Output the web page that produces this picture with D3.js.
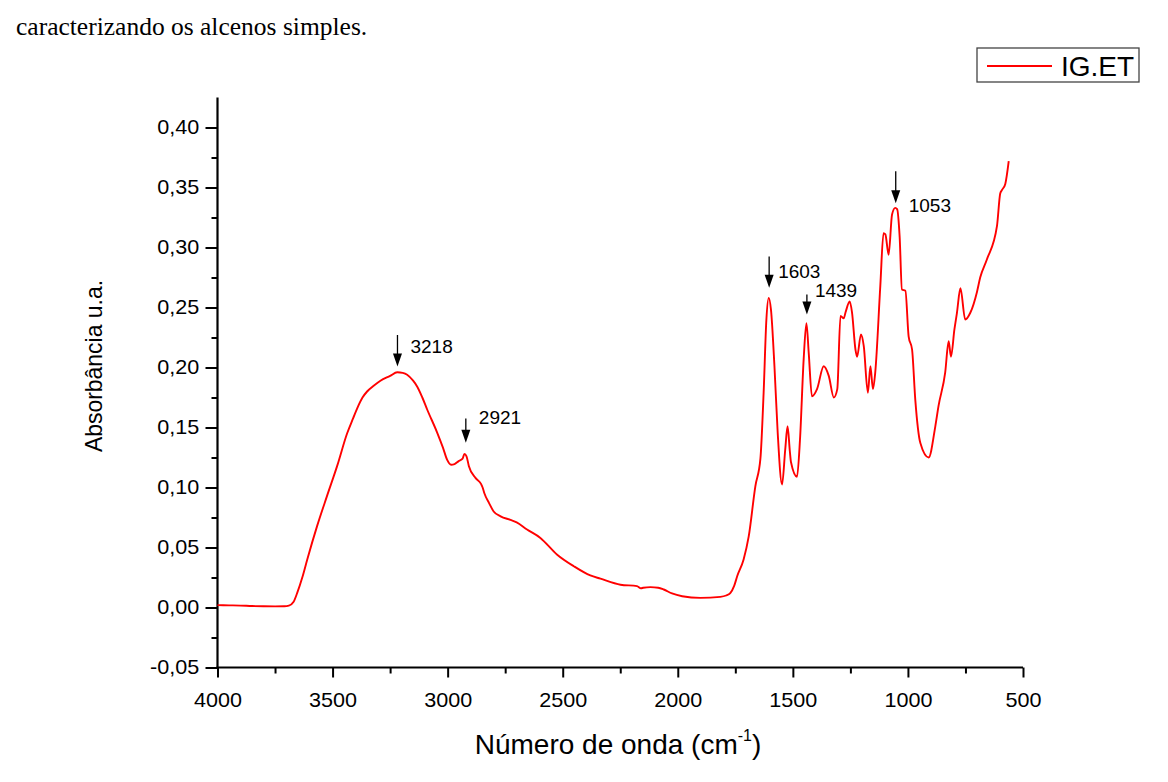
<!DOCTYPE html>
<html><head><meta charset="utf-8">
<script src="https://cdn.jsdelivr.net/npm/d3@7"></script>
<style>
html,body{margin:0;padding:0;background:#fff;}
svg{display:block;}
</style></head>
<body>
<svg id="c" width="1168" height="782"></svg>
<script>
// ---- data ----
const wavenumber = [4000,3950,3900,3850,3800,3750,3710,3690,3670,3654,3630,3610,3567,3524,3480,3437,3410,3393,3370,3350,3320,3292,3250,3219,3195,3176,3150,3132,3110,3089,3046,3020,3002,2985,2970,2952,2935,2927,2918,2908,2879,2855,2848,2840,2820,2800,2770,2727,2700,2655,2597,2524,2452,2380,2336,2249,2177,2160,2150,2119,2085,2061,2025,1981,1902,1815,1790,1772,1755,1742,1714,1692,1663,1641,1627,1615,1605,1595,1580,1566,1547,1533,1523,1513,1508,1482,1469,1453,1441,1431,1417,1395,1366,1344,1322,1307,1293,1279,1271,1253,1243,1228,1221,1204,1192,1174,1163,1152,1142,1120,1106,1098,1084,1069,1055,1047,1036,1026,1011,997,982,968,946,910,881,867,838,823,813,798,787,772,751,729,700,686,657,613,599,591,577,562];
const absorbance = [0.0020,0.0018,0.0016,0.0012,0.0010,0.0009,0.0010,0.0015,0.0045,0.012,0.026,0.040,0.068,0.093,0.118,0.145,0.158,0.166,0.175,0.180,0.185,0.189,0.193,0.196,0.1955,0.194,0.189,0.184,0.175,0.165,0.146,0.133,0.123,0.119,0.1195,0.122,0.124,0.128,0.126,0.118,0.108,0.103,0.100,0.095,0.087,0.080,0.076,0.073,0.071,0.065,0.058,0.044,0.0344,0.0267,0.024,0.019,0.0178,0.016,0.0165,0.017,0.0165,0.015,0.0117,0.0094,0.008,0.0089,0.010,0.012,0.018,0.026,0.040,0.059,0.101,0.124,0.179,0.240,0.258,0.248,0.201,0.146,0.1025,0.132,0.151,0.130,0.121,0.109,0.140,0.207,0.237,0.212,0.176,0.182,0.201,0.193,0.175,0.182,0.243,0.241,0.246,0.255,0.246,0.215,0.209,0.2275,0.218,0.179,0.201,0.182,0.196,0.268,0.312,0.311,0.294,0.3275,0.333,0.332,0.309,0.265,0.264,0.226,0.215,0.173,0.137,0.125,0.151,0.168,0.196,0.222,0.209,0.2317,0.2456,0.266,0.240,0.2456,0.263,0.275,0.290,0.318,0.345,0.348,0.353,0.372];

const xTicks = [4000,3500,3000,2500,2000,1500,1000,500];
const xMinor = [3750,3250,2750,2250,1750,1250,750];
const yTicks = [-0.05,0,0.05,0.10,0.15,0.20,0.25,0.30,0.35,0.40];
const yMinor = [-0.025,0.025,0.075,0.125,0.175,0.225,0.275,0.325,0.375];

const peakLabels = [3218,2921,1603,1439,1053];
const arrowTop = [0.2271,0.1576,0.2925,0.2608,0.3636];
const arrowTip = [0.2008,0.1372,0.2664,0.2442,0.3369];
// label offsets (layout)
const labelDx = [13,13,9,8,13];
const labelDy = [-14,-19,-10,-17,9];

const seriesName = "IG.ET";
const topText = "caracterizando os alcenos simples.";
const xTitle = "Número de onda (cm";
const yTitle = "Absorbância u.a.";

// ---- drawing ----
const svg = d3.select("#c");
const x = d3.scaleLinear().domain([4000,500]).range([217.5,1023]);
const y = d3.scaleLinear().domain([-0.05,0.425]).range([667.5,97.5]);
const red = "#ff0000";
const fmt = d => (d < 0 ? "-" : "") + Math.abs(d).toFixed(2).replace(".", ",");

svg.append("text").attr("x",16).attr("y",35)
  .attr("font-family","'Liberation Serif','Times New Roman',serif")
  .attr("font-size",25.5).attr("fill","#000").text(topText);

// minor ticks
const gx = svg.append("g").attr("transform",`translate(0,${y(-0.05)})`);
gx.call(d3.axisBottom(x).tickValues(xMinor).tickSize(6).tickFormat(""));
gx.select(".domain").remove();
const gy = svg.append("g").attr("transform",`translate(${x(4000)},0)`);
gy.call(d3.axisLeft(y).tickValues(yMinor).tickSize(6).tickFormat(""));
gy.select(".domain").remove();

// major
const ax = svg.append("g").attr("transform",`translate(0,${y(-0.05)})`)
  .call(d3.axisBottom(x).tickValues(xTicks).tickSize(10).tickSizeOuter(0).tickPadding(15).tickFormat(d3.format("d")));
const ay = svg.append("g").attr("transform",`translate(${x(4000)},0)`)
  .call(d3.axisLeft(y).tickValues(yTicks).tickSize(12).tickSizeOuter(0).tickPadding(5).tickFormat(fmt));
[ax,ay,gx,gy].forEach(g=>{
  g.selectAll("line").attr("stroke","#000").attr("stroke-width",2);
  g.selectAll(".domain").attr("stroke","#000").attr("stroke-width",2.2);
  g.selectAll("text").attr("font-family","Arial,'Liberation Sans',sans-serif")
   .attr("font-size",20).attr("fill","#000");
});
ay.select(".domain").attr("d",`M0,${y(-0.05)}V97.5`);
ax.select(".domain").attr("d",`M${x(4000)-1},0H${x(500)}`);
ax.selectAll(".tick text").attr("transform","scale(1.08,1)");
ay.selectAll(".tick text").attr("transform","scale(1.08,1)");

// axis titles
const xt = svg.append("text").attr("x",618).attr("y",754).attr("text-anchor","middle")
  .attr("font-family","Arial,'Liberation Sans',sans-serif").attr("font-size",28).attr("fill","#000");
xt.append("tspan").text(xTitle);
xt.append("tspan").attr("dy",-13).attr("font-size",16).text("-1");
xt.append("tspan").attr("dy",13).text(")");

svg.append("text").attr("transform",`translate(102,366) rotate(-90)`).attr("text-anchor","middle")
  .attr("font-family","Arial,'Liberation Sans',sans-serif").attr("font-size",24)
  .attr("textLength",172).attr("lengthAdjust","spacingAndGlyphs").attr("fill","#000").text(yTitle);

// series
const pts = wavenumber.map((w,i)=>[w,absorbance[i]]);
svg.append("path").datum(pts)
  .attr("d", d3.line().x(d=>x(d[0])).y(d=>y(d[1])).curve(d3.curveMonotoneX))
  .attr("fill","none").attr("stroke",red).attr("stroke-width",1.9).attr("stroke-linejoin","round");

// annotations
const ann = svg.append("g");
peakLabels.forEach((p,i)=>{
  const px = x(p), yt = y(arrowTop[i]), yp = y(arrowTip[i]);
  ann.append("line").attr("x1",px).attr("x2",px).attr("y1",yt).attr("y2",yp-10)
    .attr("stroke","#000").attr("stroke-width",1.3);
  ann.append("path").attr("d",`M${px-4.5},${yp-13}L${px+4.5},${yp-13}L${px},${yp}Z`).attr("fill","#000");
  ann.append("text").attr("x",px+labelDx[i]).attr("y",yp+labelDy[i])
    .attr("font-family","Arial,'Liberation Sans',sans-serif").attr("font-size",19).attr("fill","#000")
    .text(p);
});

// legend
const lg = svg.append("g");
lg.append("rect").attr("x",977).attr("y",48).attr("width",162).attr("height",34)
  .attr("fill","#fff").attr("stroke","#444").attr("stroke-width",1.3);
lg.append("line").attr("x1",987).attr("x2",1052).attr("y1",66).attr("y2",66).attr("stroke",red).attr("stroke-width",1.8);
lg.append("text").attr("x",1061).attr("y",76).attr("font-family","Arial,'Liberation Sans',sans-serif")
  .attr("font-size",28).attr("fill","#000").text(seriesName);
</script>
</body></html>
